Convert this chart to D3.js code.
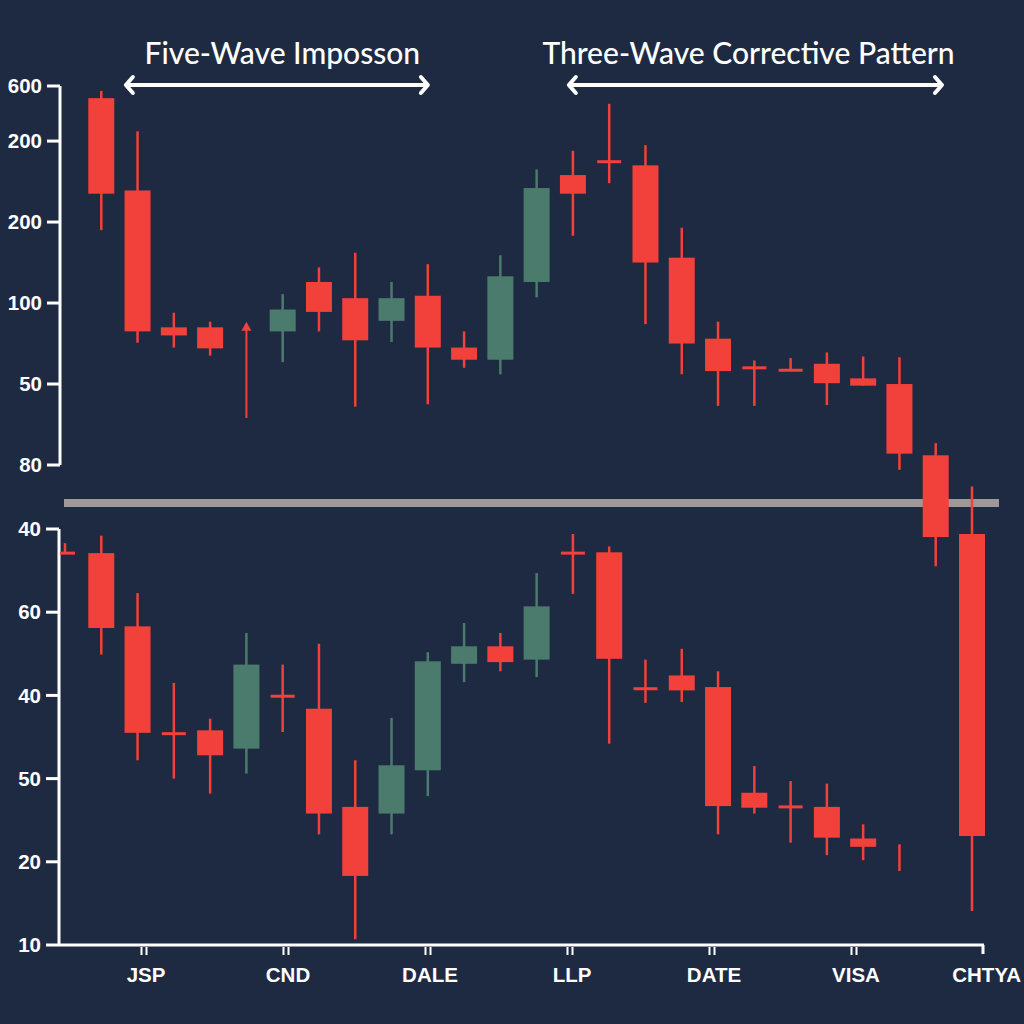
<!DOCTYPE html>
<html>
<head>
<meta charset="utf-8">
<script src="https://cdn.jsdelivr.net/npm/d3@7/dist/d3.min.js"></script>
<style>
  html, body { margin: 0; padding: 0; background: #1e2a42; }
  svg { display: block; }
</style>
</head>
<body>
<svg id="chart" width="1024" height="1024"></svg>
<script>
// ---------- DATA ----------
// top panel tick labels and their positions on the panel's value axis
const topTickLabels = ["80", "50", "100", "200", "200", "600"];
const topTickValues = [0, 1, 2, 3, 4, 4.68];
// bottom panel tick labels and positions
const bottomTickLabels = ["10", "20", "50", "40", "60", "40"];
const bottomTickValues = [0, 1, 2, 3, 4, 5];
// category labels along the bottom axis
const xLabels = ["JSP", "CND", "DALE", "LLP", "DATE", "VISA", "CHTYA"];

// top panel candles
const topSlots  = [1, 2, 3, 4, 6, 7, 8, 9, 10, 11, 12, 13, 14, 15, 16, 17, 18, 19, 20, 21, 22, 23, 24];
const topOpen   = [4.53, 3.39, 1.70, 1.70, 1.65, 2.26, 2.06, 1.78, 2.09, 1.45, 1.30, 2.26, 3.58, 3.745, 3.70, 2.56, 1.56, 1.20, 1.17, 1.25, 1.07, 1.00, 0.12];
const topHigh   = [4.62, 4.12, 1.88, 1.77, 2.11, 2.44, 2.62, 2.26, 2.48, 1.65, 2.59, 3.65, 3.88, 4.46, 3.95, 2.93, 1.77, 1.29, 1.32, 1.39, 1.34, 1.33, 0.27];
const topLow    = [2.90, 1.51, 1.45, 1.35, 1.27, 1.65, 0.72, 1.52, 0.75, 1.20, 1.12, 2.07, 2.83, 3.48, 1.74, 1.12, 0.73, 0.73, 1.17, 0.74, 0.98, -0.06, -1.25];
const topClose  = [3.35, 1.65, 1.60, 1.44, 1.92, 1.89, 1.54, 2.06, 1.45, 1.30, 2.33, 3.42, 3.35, 3.745, 2.50, 1.50, 1.16, 1.20, 1.17, 1.01, 0.98, 0.14, -0.89];
// top panel up-arrow marker: slot, from, to
const topArrowSlot = 5, topArrowFrom = 0.58, topArrowTo = 1.77;

// bottom panel candles
const botSlots  = [0, 1, 2, 3, 4, 5, 6, 7, 8, 9, 10, 11, 12, 13, 14, 15, 16, 17, 18, 19, 20, 21, 22, 23, 25];
const botOpen   = [4.71, 4.71, 3.83, 2.54, 2.58, 2.36, 2.99, 2.84, 1.66, 1.58, 2.10, 3.38, 3.59, 3.43, 4.71, 4.72, 3.08, 3.24, 3.10, 1.83, 1.66, 1.66, 1.28, null, 4.94];
const botHigh   = [4.83, 4.92, 4.23, 3.15, 2.72, 3.75, 3.37, 3.62, 2.22, 2.73, 3.52, 3.87, 3.75, 4.47, 4.94, 4.79, 3.43, 3.56, 3.29, 2.15, 1.97, 1.94, 1.45, 1.21, 5.51];
const botLow    = [4.71, 3.49, 2.22, 2.00, 1.82, 2.06, 2.56, 1.33, 0.07, 1.33, 1.79, 3.16, 3.29, 3.22, 4.22, 2.42, 2.91, 2.92, 1.33, 1.58, 1.23, 1.08, 1.02, 0.89, 0.41];
const botClose  = [4.71, 3.81, 2.55, 2.54, 2.28, 3.37, 2.99, 1.58, 0.83, 2.16, 3.41, 3.59, 3.40, 4.07, 4.71, 3.44, 3.08, 3.06, 1.67, 1.65, 1.66, 1.29, 1.18, null, 1.31];

// annotations (slot spans)
const annTitles = ["Five-Wave Imposson", "Three-Wave Corrective Pattern"];
const annTitleCenter = [5.99, 18.84];
const annFrom = [1.65, 13.86];
const annTo   = [10.03, 24.2];
const dividerLevel = -0.47; // on the top panel's value axis

// ---------- STYLE ----------
const RED = "#f2403a", GREEN = "#4b7b6d", WHITE = "#ffffff", BG = "#1e2a42", GREY = "#a09898";
const LABEL_FONT = "Liberation Sans, Arial, sans-serif";

const svg = d3.select("#chart");
svg.append("rect").attr("width", 1024).attr("height", 1024).attr("fill", BG);

const x = d3.scaleLinear().domain([0, 25]).range([65, 972]);
const yTop = d3.scaleLinear().domain([0, 4.68]).range([465, 86]);
const yBot = d3.scaleLinear().domain([0, 5]).range([945, 529]);
const xCat = d3.scalePoint().domain(xLabels).range([146, 998]);

// divider line (behind candles)
svg.append("line")
  .attr("x1", 64).attr("x2", 999)
  .attr("y1", yTop(dividerLevel)).attr("y2", yTop(dividerLevel))
  .attr("stroke", GREY).attr("stroke-width", 8);

// ---------- AXES ----------
function yAxis(scale, vals, labels, xPos, yMin, yMax) {
  const g = svg.append("g");
  g.append("line").attr("x1", xPos).attr("x2", xPos)
    .attr("y1", scale(yMax)).attr("y2", scale(yMin))
    .attr("stroke", WHITE).attr("stroke-width", 3);
  vals.forEach((v, i) => {
    g.append("line").attr("x1", xPos - 13).attr("x2", xPos)
      .attr("y1", scale(v)).attr("y2", scale(v))
      .attr("stroke", WHITE).attr("stroke-width", 3);
    g.append("text").attr("x", xPos - 18).attr("y", scale(v))
      .attr("dy", "0.35em").attr("text-anchor", "end")
      .attr("font-family", LABEL_FONT)
      .attr("font-weight", "bold").attr("font-size", 20.5)
      .attr("fill", WHITE).text(labels[i]);
  });
}
yAxis(yTop, topTickValues, topTickLabels, 60, 0, 4.68);
yAxis(yBot, bottomTickValues, bottomTickLabels, 59, 0, 5);

// bottom x axis
const axY = yBot(0);
svg.append("line").attr("x1", 59).attr("x2", 984).attr("y1", axY).attr("y2", axY)
  .attr("stroke", WHITE).attr("stroke-width", 3);
svg.append("line").attr("x1", 983).attr("x2", 983).attr("y1", axY).attr("y2", axY + 9)
  .attr("stroke", WHITE).attr("stroke-width", 3);
xLabels.forEach((lab, i) => {
  const cx = xCat(lab);
  const last = i === xLabels.length - 1;
  if (!last) {
    [-2.5, 2.5].forEach(dx => {
      svg.append("line").attr("x1", cx - 2 + dx).attr("x2", cx - 2 + dx)
        .attr("y1", axY + 2).attr("y2", axY + 10)
        .attr("stroke", WHITE).attr("stroke-width", 2);
    });
  }
  svg.append("text").attr("x", last ? 1021 : cx).attr("y", axY + 37)
    .attr("text-anchor", last ? "end" : "middle")
    .attr("font-family", LABEL_FONT)
    .attr("font-weight", "bold").attr("font-size", 20.5)
    .attr("fill", WHITE).text(lab);
});

// ---------- CANDLES ----------
const clip = svg.append("clipPath").attr("id", "botclip");
clip.append("rect").attr("x", 60).attr("y", 0).attr("width", 1024).attr("height", 1024);

function drawCandles(group, slots, O, H, L, C, y) {
  slots.forEach((s, i) => {
    const cx = x(s);
    const o = O[i], c = C[i];
    const up = (o !== null && c > o);
    const col = up ? GREEN : RED;
    group.append("line").attr("x1", cx).attr("x2", cx)
      .attr("y1", y(H[i])).attr("y2", y(L[i]))
      .attr("stroke", col).attr("stroke-width", 2.5);
    if (o === null) return;
    const top = y(Math.max(o, c)), bot = y(Math.min(o, c));
    const h = bot - top;
    if (h < 4) {
      const w = (s === 0) ? 20 : 24;
      group.append("rect").attr("x", cx - w / 2).attr("y", (top + bot) / 2 - 1.5)
        .attr("width", w).attr("height", 3).attr("fill", col);
    } else {
      group.append("rect").attr("x", cx - 13).attr("y", top)
        .attr("width", 26).attr("height", h).attr("fill", col);
    }
  });
}
const gTop = svg.append("g");
drawCandles(gTop, topSlots, topOpen, topHigh, topLow, topClose, yTop);
// up arrow
const ax = x(topArrowSlot);
gTop.append("line").attr("x1", ax).attr("x2", ax)
  .attr("y1", yTop(topArrowFrom)).attr("y2", yTop(topArrowTo) + 3)
  .attr("stroke", RED).attr("stroke-width", 2);
gTop.append("path")
  .attr("d", `M${ax - 5},${yTop(topArrowTo) + 9} L${ax},${yTop(topArrowTo)} L${ax + 5},${yTop(topArrowTo) + 9} Z`)
  .attr("fill", RED);

const gBot = svg.append("g").attr("clip-path", "url(#botclip)");
drawCandles(gBot, botSlots, botOpen, botHigh, botLow, botClose, yBot);

// ---------- ANNOTATIONS ----------
annTitles.forEach((t, i) => {
  svg.append("text").attr("x", x(annTitleCenter[i])).attr("y", 64)
    .attr("text-anchor", "middle")
    .attr("font-family", "Lato, 'Open Sans', sans-serif")
    .attr("font-weight", 500).attr("font-size", 30)
    .attr("fill", WHITE).text(t);
  const x1 = x(annFrom[i]), x2 = x(annTo[i]), ay = 85;
  svg.append("line").attr("x1", x1 + 3).attr("x2", x2 - 3).attr("y1", ay).attr("y2", ay)
    .attr("stroke", WHITE).attr("stroke-width", 4);
  svg.append("path").attr("d", `M${x1 + 8},${ay - 8} L${x1 + 1},${ay} L${x1 + 8},${ay + 8}`)
    .attr("fill", "none").attr("stroke", WHITE).attr("stroke-width", 4)
    .attr("stroke-linejoin", "round").attr("stroke-linecap", "round");
  svg.append("path").attr("d", `M${x2 - 8},${ay - 8} L${x2 - 1},${ay} L${x2 - 8},${ay + 8}`)
    .attr("fill", "none").attr("stroke", WHITE).attr("stroke-width", 4)
    .attr("stroke-linejoin", "round").attr("stroke-linecap", "round");
});
</script>
</body>
</html>
